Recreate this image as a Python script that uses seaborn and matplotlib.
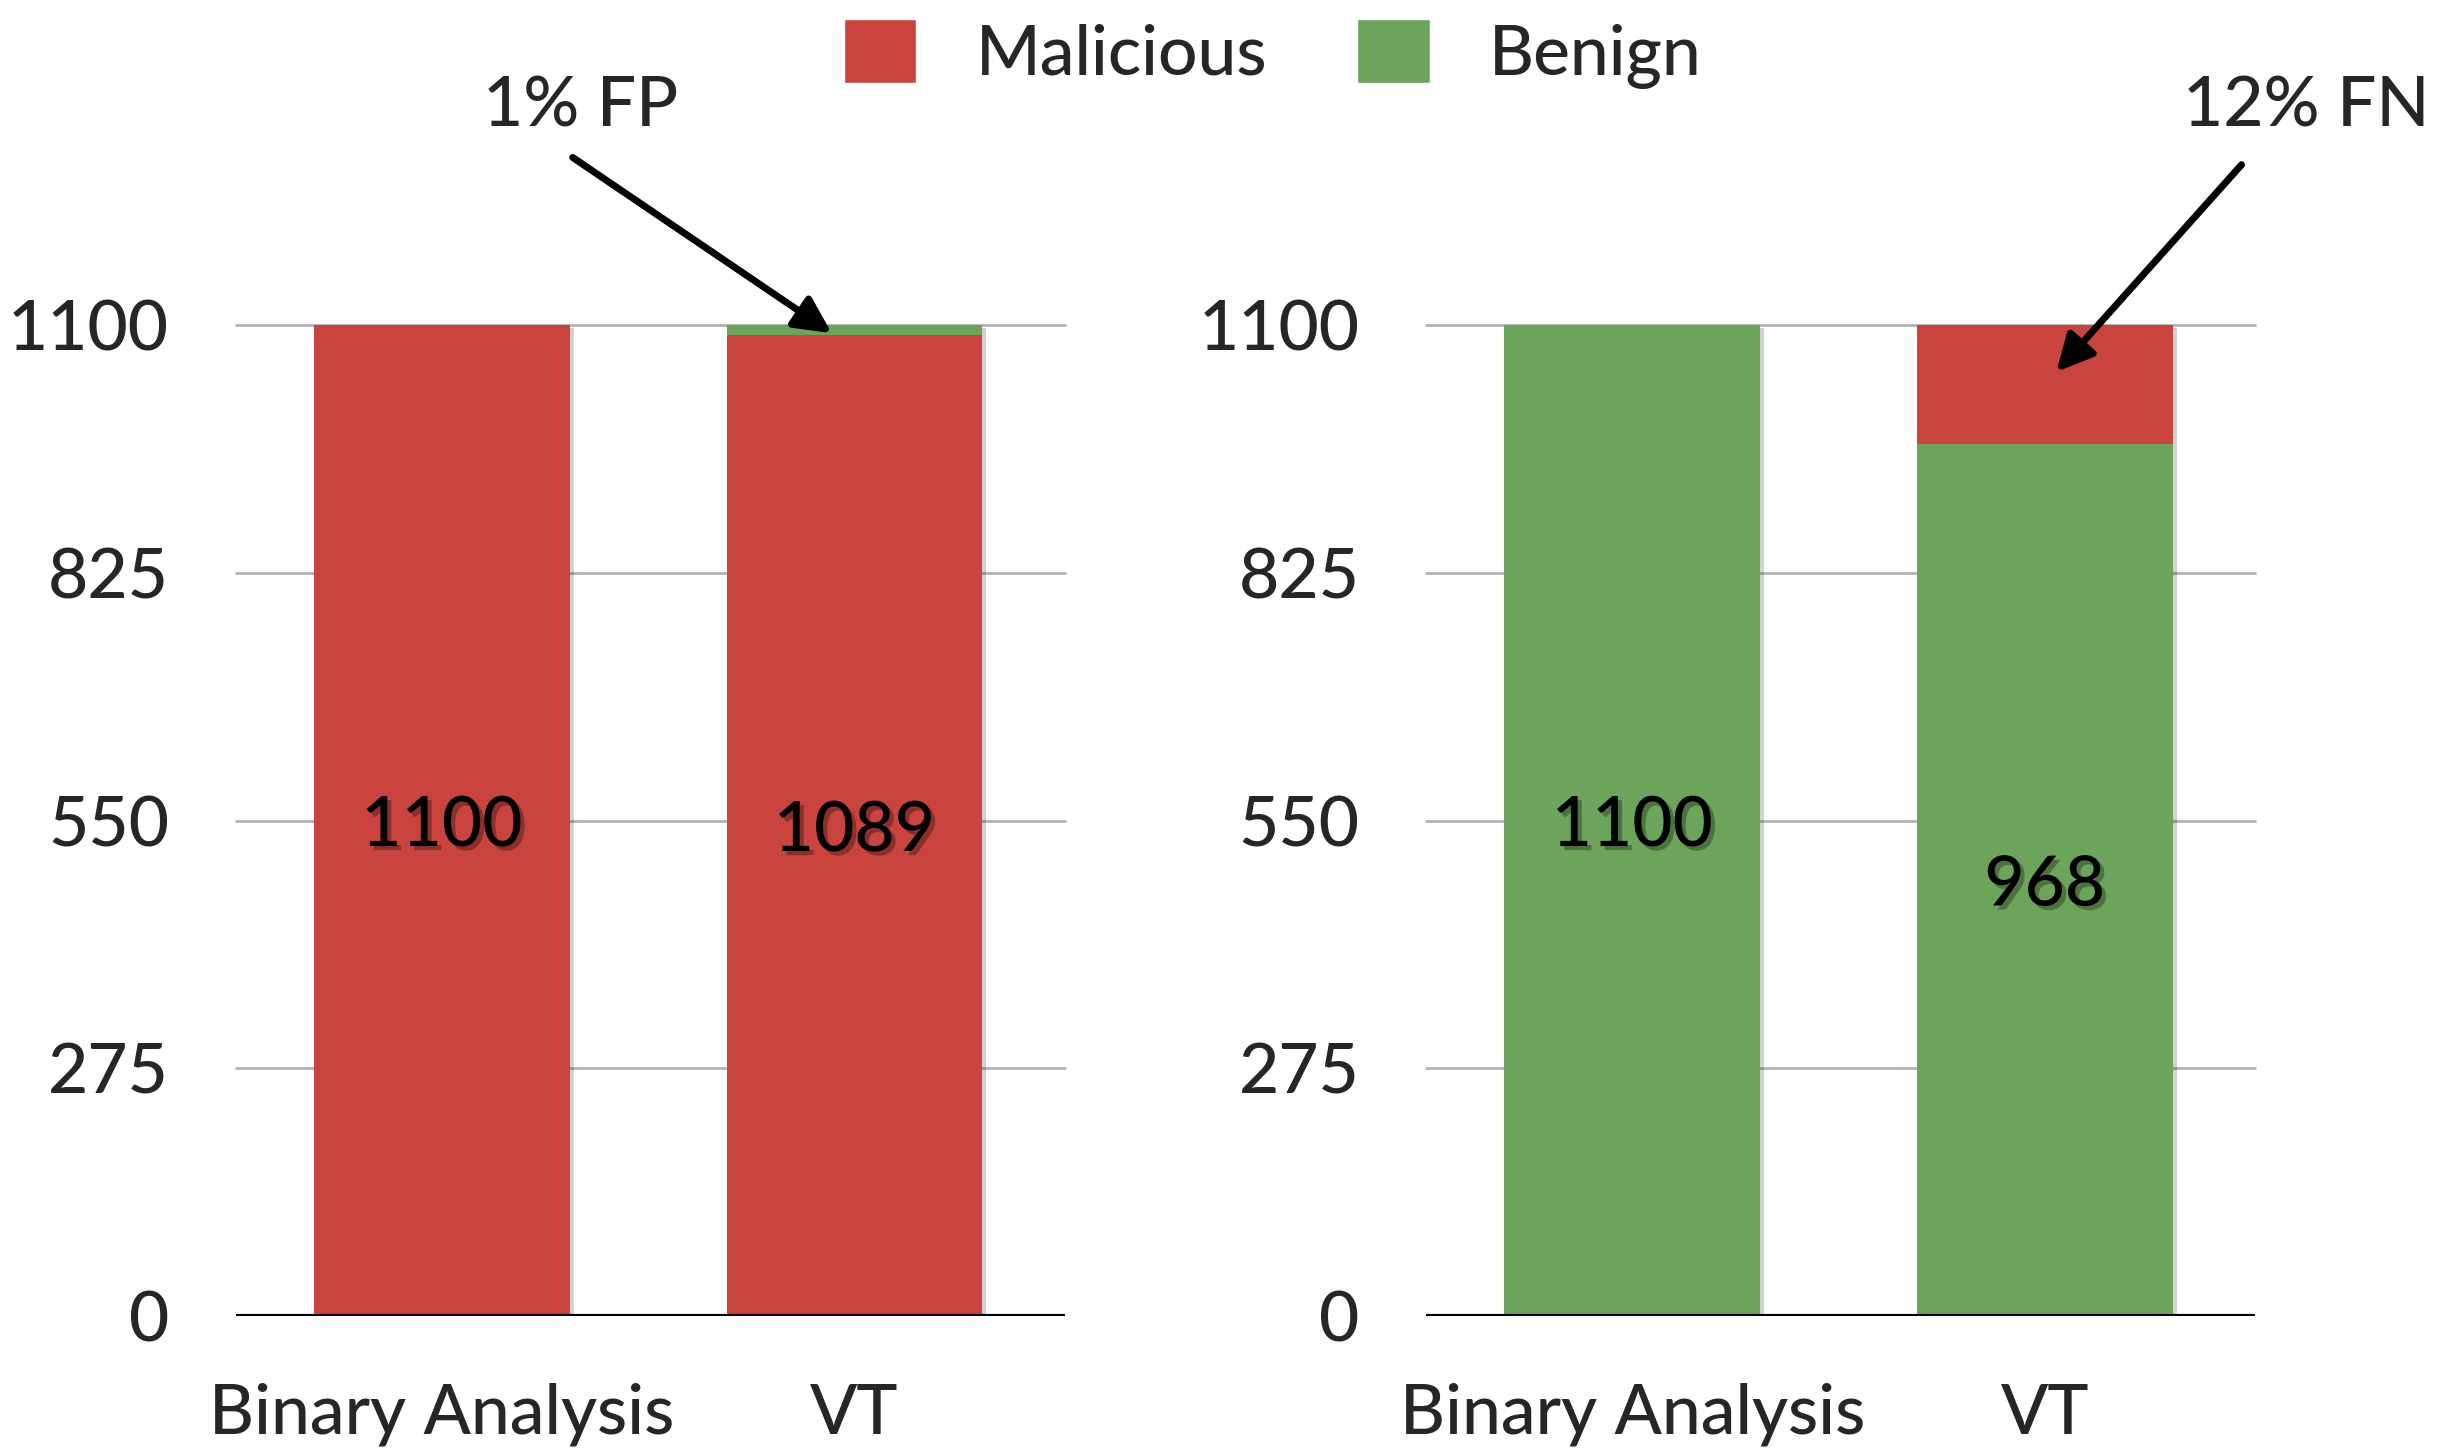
import matplotlib
matplotlib.use("Agg")
import matplotlib.pyplot as plt
import matplotlib.patheffects as pe
from matplotlib.patches import Patch
import pandas as pd
import seaborn as sns

categories = ["Binary Analysis", "VT"]
left_malicious = [1100, 1089]
left_benign = [0, 11]
right_benign = [1100, 968]
right_malicious = [0, 132]
y_ticks = [0, 275, 550, 825, 1100]

RED = "#C9443F"
GREEN = "#6DA45B"

sns.set_theme(style="white")
plt.rcParams["font.family"] = ["Lato", "DejaVu Sans"]
plt.rcParams["font.weight"] = "medium"

FS = 50
fig = plt.figure(figsize=(24.62, 14.51), dpi=100)
ax_l = fig.add_axes([0.0957, 0.093, 0.3368, 0.683])
ax_r = fig.add_axes([0.5792, 0.093, 0.3368, 0.683])

bar_shadow = [pe.SimplePatchShadow(offset=(3, -2), alpha=0.18, shadow_rgbFace="black"), pe.Normal()]
text_shadow = [pe.SimplePatchShadow(offset=(3, -3), alpha=0.3), pe.Normal()]


def stacked(ax, bottom, top, bottom_color, top_color):
    totals = [b + t for b, t in zip(bottom, top)]
    df_tot = pd.DataFrame({"cat": categories, "val": totals})
    df_bot = pd.DataFrame({"cat": categories, "val": bottom})
    sns.barplot(data=df_tot, x="cat", y="val", color=top_color, width=0.62,
                saturation=1, linewidth=0, ax=ax, zorder=2)
    sns.barplot(data=df_bot, x="cat", y="val", color=bottom_color, width=0.62,
                saturation=1, linewidth=0, ax=ax, zorder=3)
    for p in ax.patches[:len(categories)]:
        p.set_path_effects(bar_shadow)
    for i, v in enumerate(bottom):
        ax.text(i, v / 2, str(v), ha="center", va="center_baseline", fontsize=FS,
                color="black", zorder=5, path_effects=text_shadow)
    ax.set_xlim(-0.5, 1.51)
    ax.set_ylim(0, 1100)
    ax.set_yticks(y_ticks)
    ax.set_yticklabels([str(t) for t in y_ticks])
    for t in y_ticks[1:]:
        ax.axhline(t, color="#b3b3b3", lw=2, zorder=1, clip_on=False)
    ax.axhline(0, color="black", lw=3, zorder=4)
    for s in ax.spines.values():
        s.set_visible(False)
    ax.tick_params(axis="y", length=0, pad=48, labelsize=FS)
    ax.tick_params(axis="x", length=0, pad=48, labelsize=FS)
    ax.set_xlabel("")
    ax.set_ylabel("")
    ax.grid(False)


stacked(ax_l, left_malicious, left_benign, RED, GREEN)
stacked(ax_r, right_benign, right_malicious, GREEN, RED)

arrow = dict(arrowstyle="-|>", color="black", lw=5, mutation_scale=55, shrinkA=0, shrinkB=0)
ax_l.annotate("", xy=(0.945, 1091), xytext=(0.317, 1286), arrowprops=arrow,
              annotation_clip=False)
ax_l.text(0.337, 1342, "1% FP", ha="center", va="center", fontsize=FS)
ax_r.annotate("", xy=(1.028, 1048), xytext=(1.477, 1278), arrowprops=arrow,
              annotation_clip=False)
ax_r.text(1.633, 1342, "12% FN", ha="center", va="center", fontsize=FS)

handles = [Patch(facecolor=RED, label="Malicious"), Patch(facecolor=GREEN, label="Benign")]
fig.legend(handles=handles, loc="upper center", bbox_to_anchor=(0.517, 1.03), ncol=2,
           frameon=False, fontsize=FS, handlelength=1.05, handleheight=1.05,
           handletextpad=0.85, columnspacing=1.3)

fig.savefig("out.png", dpi=100)
